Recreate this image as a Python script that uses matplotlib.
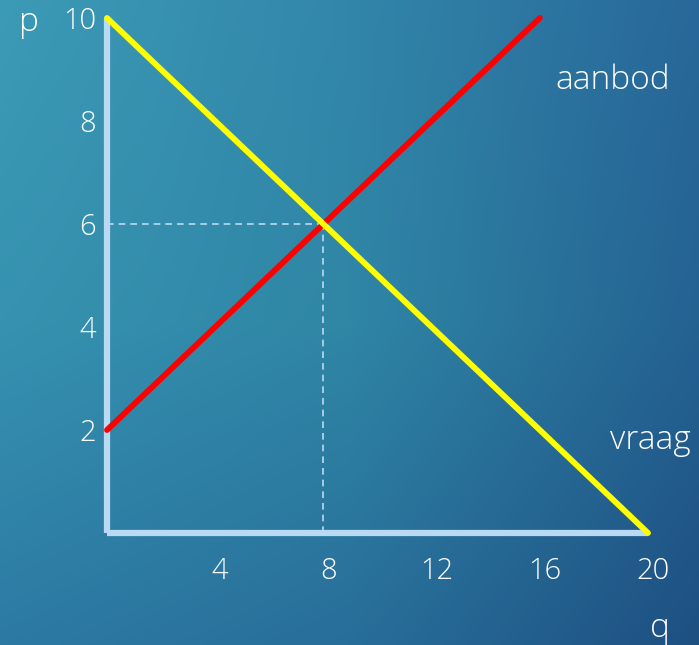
import numpy as np
import matplotlib.pyplot as plt
import matplotlib.transforms as mtransforms

# vraag (demand) and aanbod (supply), p against q
q_vraag = [0, 20]
p_vraag = [10, 0]
q_aanbod = [0, 16]
p_aanbod = [2, 10]
q_even, p_even = 8, 6

xticks = [4, 8, 12, 16, 20]
yticks = [2, 4, 6, 8, 10]

W, H = 699, 645
fig = plt.figure(figsize=(W / 100, H / 100), dpi=100)

# background: 3x3 grid of colours, bilinear blend (rows top -> bottom)
grid = np.array([
    [[60, 155, 182], [50, 134, 170], [40, 104, 154]],
    [[54, 146, 176], [47, 134, 165], [36, 98, 146]],
    [[44, 122, 164], [40, 110, 154], [30, 80, 130]],
]) / 255
n = 300
s = np.linspace(0, 2, n)
i0 = np.minimum(s.astype(int), 1)
f = s - i0
rows = grid[i0] * (1 - f)[:, None, None] + grid[i0 + 1] * f[:, None, None]
img = rows[:, i0] * (1 - f)[None, :, None] + rows[:, i0 + 1] * f[None, :, None]

bg = fig.add_axes([0, 0, 1, 1])
bg.imshow(img, extent=[0, 1, 0, 1], aspect='auto', origin='upper')
bg.axis('off')

ax = fig.add_axes([107 / W, (H - 533) / H, (648 - 107) / W, (533 - 18) / H])
ax.patch.set_alpha(0)
ax.set_xlim(0, 20)
ax.set_ylim(0, 10)

axcol = '#b9daf2'
ax.plot([q_even, q_even], [0, p_even], ls=(0, (4, 3)), color=axcol, lw=1.2, zorder=2)
ax.plot([0, q_even], [p_even, p_even], ls=(0, (4, 3)), color=axcol, lw=1.2, zorder=2)
ax.plot(q_aanbod, p_aanbod, color='#ff0000', lw=4.2, solid_capstyle='round', clip_on=False, zorder=3)
ax.plot(q_vraag, p_vraag, color='#ffff00', lw=4.2, solid_capstyle='round', clip_on=False, zorder=4)

for s_ in ['top', 'right']:
    ax.spines[s_].set_visible(False)
for s_ in ['left', 'bottom']:
    ax.spines[s_].set_color(axcol)
    ax.spines[s_].set_linewidth(4.5)
    ax.spines[s_].set_capstyle('butt')

font = dict(family=['Open Sans', 'DejaVu Sans'], weight='light', color='white')
ax.set_xticks(xticks)
ax.set_xticklabels([str(v) for v in xticks], fontsize=21, **font)
ax.set_yticks(yticks)
ax.set_yticklabels([str(v) for v in yticks], fontsize=21, **font)
ax.tick_params(length=0)
ax.tick_params(axis='x', pad=17)
ax.tick_params(axis='y', pad=8)

# x labels sit a little to the right of their ticks
shift = mtransforms.ScaledTranslation(5 / 100, 0, fig.dpi_scale_trans)
for lab in ax.get_xticklabels():
    lab.set_transform(lab.get_transform() + shift)

fig.text(29 / W, 1 - 22 / H, 'p', ha='center', va='center', fontsize=24, **font)
fig.text(660 / W, 1 - 628 / H, 'q', ha='center', va='center', fontsize=24, **font)
fig.text(613 / W, 1 - 80 / H, 'aanbod', ha='center', va='center', fontsize=24, **font)
fig.text(650 / W, 1 - 440 / H, 'vraag', ha='center', va='center', fontsize=24, **font)

fig.savefig('out.png', dpi=100)
